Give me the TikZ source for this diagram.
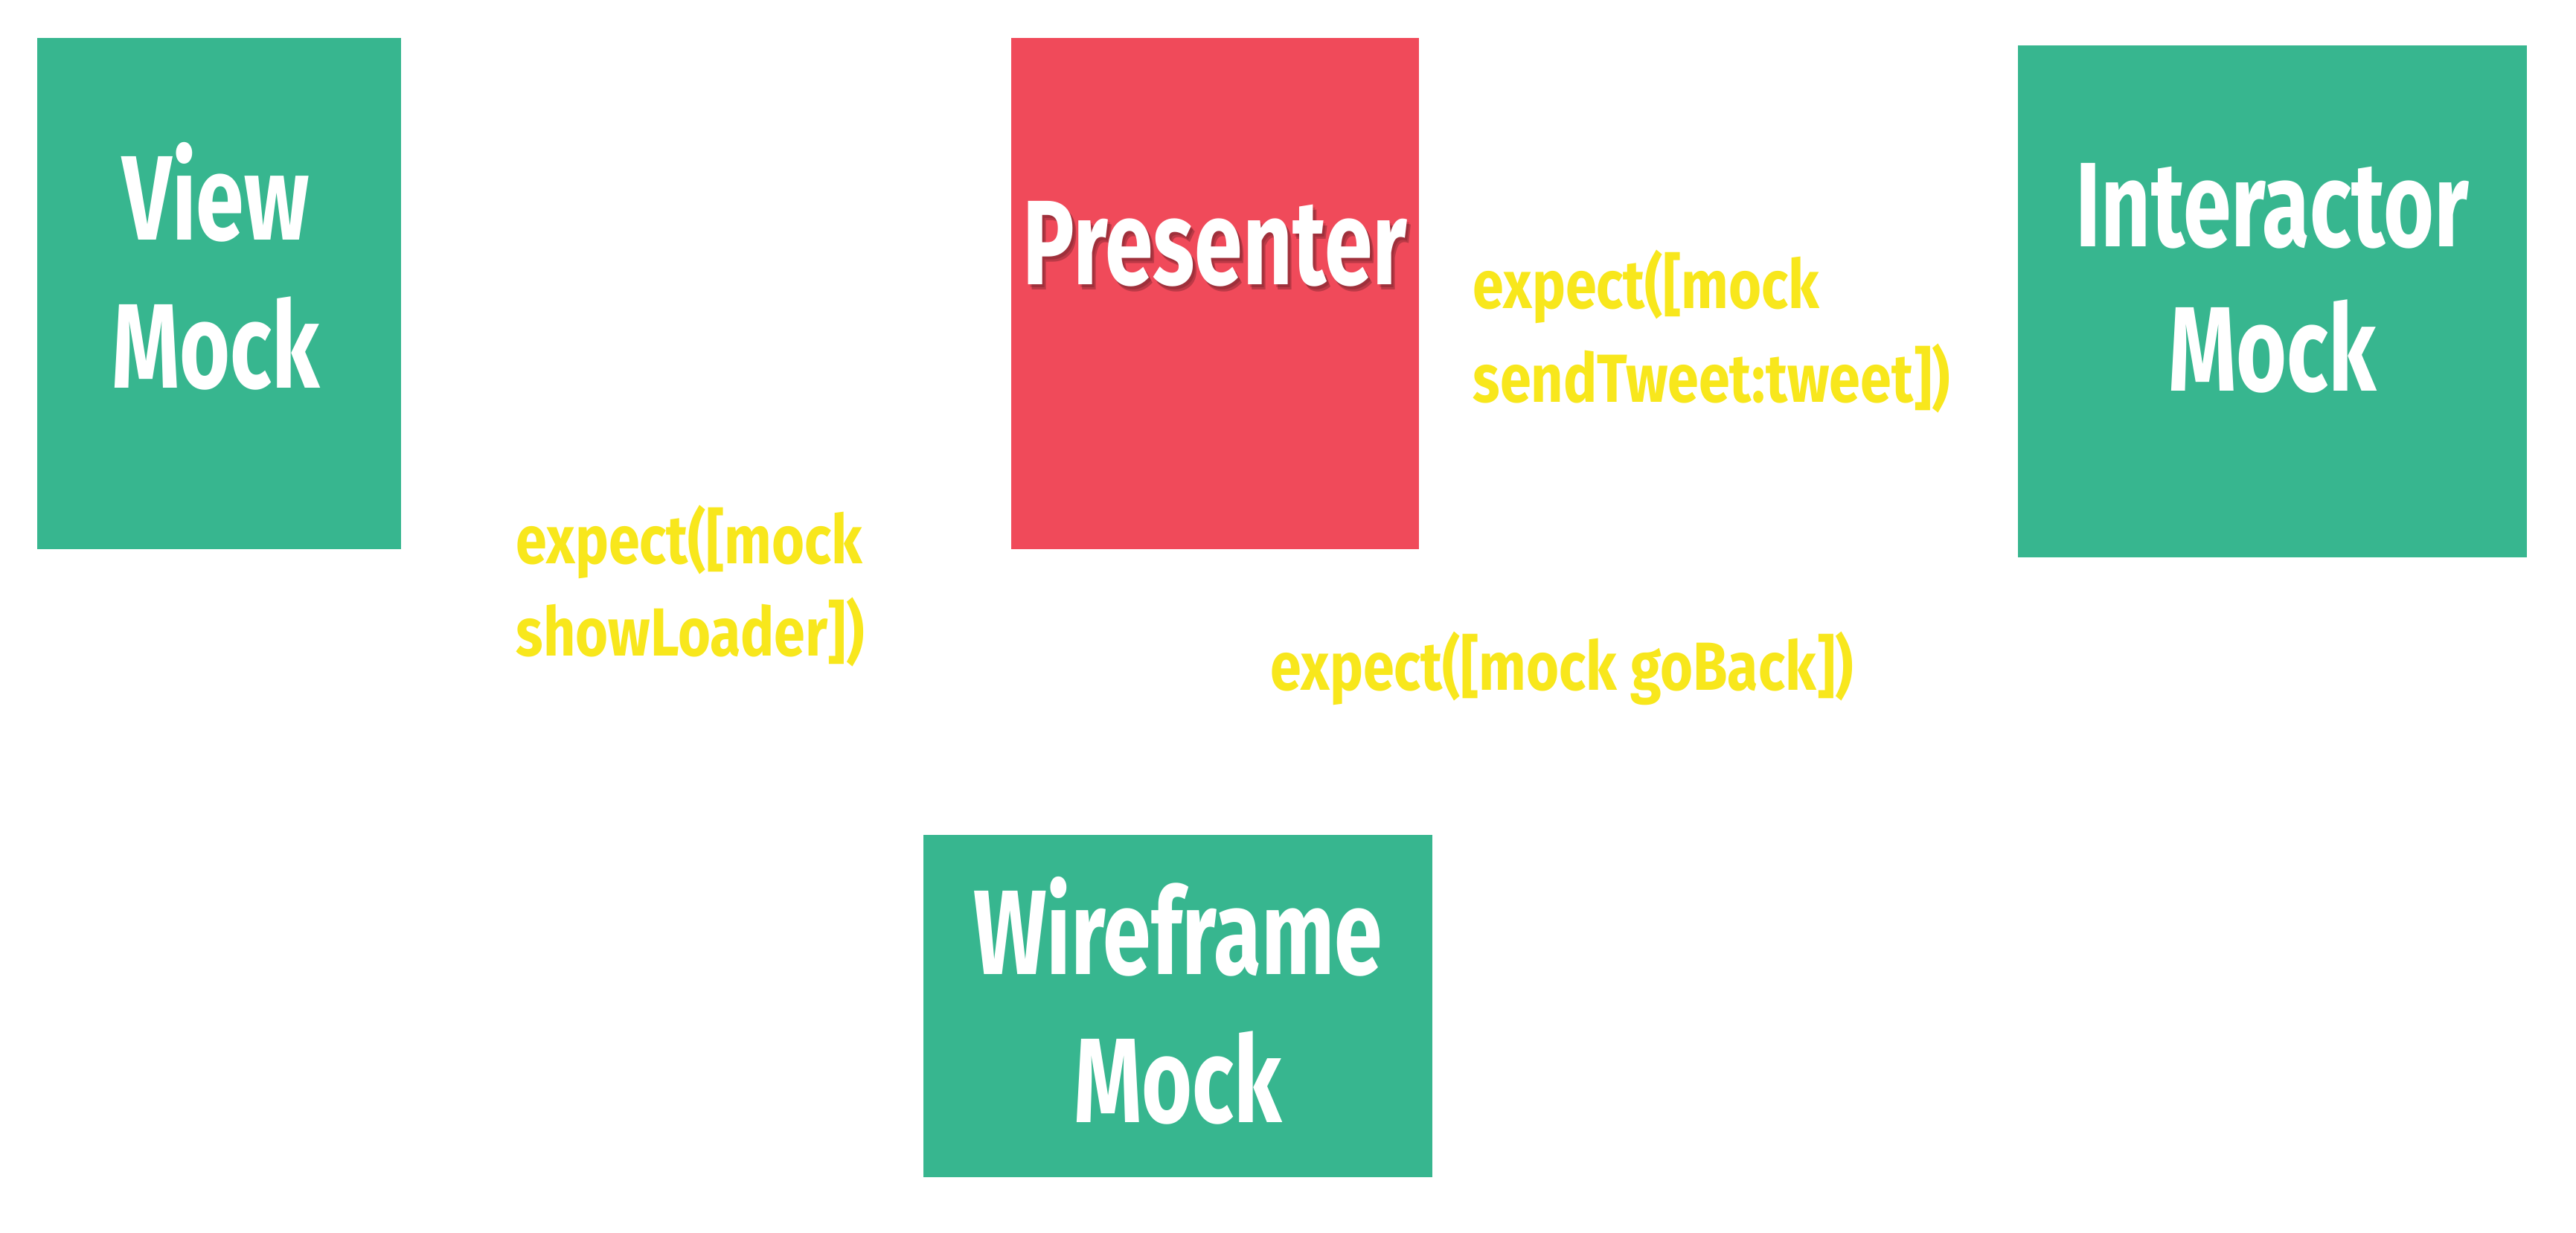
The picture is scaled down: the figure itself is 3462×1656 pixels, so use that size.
\documentclass[tikz,border=0pt]{standalone}
\usepackage{fontspec}
\newfontfamily\bigfont[FakeStretch=0.72]{Fira Sans Bold}
\newfontfamily\smallfont[FakeStretch=0.825]{Fira Sans Bold}
\definecolor{mockgreen}{HTML}{37B68F}
\definecolor{presred}{HTML}{F04A5A}
\definecolor{expyellow}{HTML}{F8E71C}
\tikzset{
  box/.style={draw=none,inner sep=0pt,outer sep=0pt,rectangle},
  bigtxt/.style={inner sep=0pt,anchor=base,text=white,font=\bigfont\fontsize{46pt}{56pt}\selectfont},
  smalltxt/.style={inner sep=0pt,anchor=base west,font=\smallfont\fontsize{26pt}{36pt}\selectfont},
  ylw/.style={smalltxt,text=expyellow},
  wht/.style={smalltxt,text=white},
}
\begin{document}
\begin{tikzpicture}[x=0.01cm,y=-0.01cm]
\useasboundingbox[fill=white] (0,0) rectangle (3462,1656);
% boxes
\node[box,fill=mockgreen,minimum width=4.89cm,minimum height=6.87cm] (view) at (294.5,394.5) {};
\node[box,fill=presred,minimum width=5.48cm,minimum height=6.87cm] (presenter) at (1633,394.5) {};
\node[box,fill=mockgreen,minimum width=6.84cm,minimum height=6.88cm] (interactor) at (3054,405) {};
\node[box,fill=mockgreen,minimum width=6.84cm,minimum height=4.60cm] (wireframe) at (1583,1352) {};
% box labels
\node[bigtxt] (viewA) at (290,322) {View};
\node[bigtxt] (viewB) at (290,521) {Mock};
\node[bigtxt,text=black,opacity=0.22] (presShadow) at (1638,389) {Presenter};
\node[bigtxt,text=black,opacity=0.15] (presShadowB) at (1636,386) {Presenter};
\node[bigtxt] (presA) at (1633,382) {Presenter};
\node[bigtxt] (interA) at (3054,331) {Interactor};
\node[bigtxt] (interB) at (3054,525) {Mock};
\node[bigtxt] (wireA) at (1583,1309) {Wireframe};
\node[bigtxt] (wireB) at (1583,1508) {Mock};
% hidden white text
\node[wht] (selA) at (601,419) {userDidSelectSend:};
\node[wht] (selB) at (601,545) {(NSString*)tweet};
% yellow expectations
\node[ylw] (sendA) at (1979,414) {expect([mock};
\node[ylw] (sendB) at (1979,540) {sendTweet:tweet])};
\node[ylw] (loadA) at (693,757) {expect([mock};
\node[ylw] (loadB) at (693,881) {showLoader])};
\node[ylw] (back) at (1707,927) {expect([mock goBack])};
\end{tikzpicture}
\end{document}
